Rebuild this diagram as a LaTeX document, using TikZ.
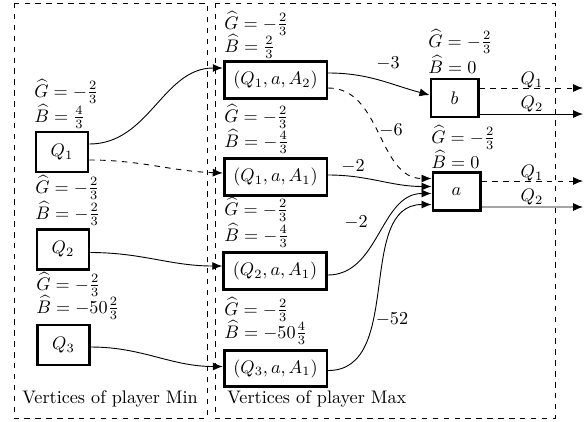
\documentclass[tikz,border=0pt]{standalone}
\usetikzlibrary{arrows.meta,calc}
\begin{document}
\begin{tikzpicture}[x=0.55pt,y=-0.55pt,
  vbox/.style={draw,line width=1.5pt,inner sep=0pt},
  minbox/.style={vbox,minimum width=28.5pt,minimum height=22pt},
  maxbox/.style={vbox,minimum width=56.5pt,minimum height=20pt},
  choicebox/.style={vbox,minimum width=26pt,minimum height=21pt},
  val/.style={anchor=base west,inner sep=0pt},
  edge/.style={line width=0.5pt,-{Latex[length=5.5pt,width=4.4pt]}},
  elabel/.style={inner sep=0pt},
  region/.style={dashed,line width=0.5pt}]

\useasboundingbox (0,0) rectangle (584,421);

% the two players' regions
\draw[region] (14,3) rectangle (207,418);
\draw[region] (215,3) rectangle (555,418);
\node[anchor=base west,inner sep=0pt] (minlab) at (22,403) {Vertices of player Min};
\node[anchor=base west,inner sep=0pt] (maxlab) at (227,403) {Vertices of player Max};

% vertices of Min
\node[minbox] (q1) at (62,152) {$Q_1$};
\node[minbox] (q2) at (63,249.5) {$Q_2$};
\node[minbox] (q3) at (63.5,345) {$Q_3$};

% vertices of Max
\node[maxbox] (m1) at (275.5,80) {$(Q_1,a,A_2)$};
\node[maxbox] (m2) at (275.5,177) {$(Q_1,a,A_1)$};
\node[maxbox] (m3) at (275,271) {$(Q_2,a,A_1)$};
\node[maxbox] (m4) at (275.5,368.5) {$(Q_3,a,A_1)$};

% letters
\node[choicebox] (b) at (454.5,98) {$b$};
\node[choicebox] (a) at (456.5,191.5) {$a$};

% values
\node[val] (gq1) at (34,97) {$\widehat{G}=-\frac{2}{3}$};
\node[val] (bq1) at (34,122) {$\widehat{B}=\frac{4}{3}$};
\node[val] (gq2) at (35,193) {$\widehat{G}=-\frac{2}{3}$};
\node[val] (bq2) at (35,219) {$\widehat{B}=-\frac{2}{3}$};
\node[val] (gq3) at (36,290) {$\widehat{G}=-\frac{2}{3}$};
\node[val] (bq3) at (36,313) {$\widehat{B}=-50\frac{2}{3}$};

\node[val] (gm1) at (224,29) {$\widehat{G}=-\frac{2}{3}$};
\node[val] (bm1) at (224,52) {$\widehat{B}=\frac{2}{3}$};
\node[val] (gm2) at (224,122) {$\widehat{G}=-\frac{2}{3}$};
\node[val] (bm2) at (224,147) {$\widehat{B}=-\frac{4}{3}$};
\node[val] (gm3) at (224,215) {$\widehat{G}=-\frac{2}{3}$};
\node[val] (bm3) at (224,241) {$\widehat{B}=-\frac{4}{3}$};
\node[val] (gm4) at (224,315) {$\widehat{G}=-\frac{2}{3}$};
\node[val] (bm4) at (224,338) {$\widehat{B}=-50\frac{4}{3}$};

\node[val] (gb) at (428,47) {$\widehat{G}=-\frac{2}{3}$};
\node[val] (bb) at (428,73) {$\widehat{B}=0$};
\node[val] (ga) at (431,143) {$\widehat{G}=-\frac{2}{3}$};
\node[val] (ba) at (431,168) {$\widehat{B}=0$};

% moves of Min
\draw[edge] ($(q1.east)+(0,-8)$) to[out=0,in=180] ($(m1.west)+(0,-12)$);
\draw[edge,dashed] ($(q1.east)+(0,8)$) to[out=0,in=178] ($(m2.west)+(0,-4)$);
\draw[edge] ($(q2.east)+(0,3)$) to[out=0,in=180] ($(m3.west)+(0,-5)$);
\draw[edge] ($(q3.east)+(0,2)$) to[out=0,in=180] ($(m4.west)+(0,-2)$);

% moves of Max
\draw[edge] ($(m1.east)+(0,-7)$) to[out=0,in=165] ($(b.west)+(0,-3)$);
\draw[edge,dashed] ($(m1.east)+(0,8)$) to[out=0,in=180] ($(a.west)+(0,-13)$);
\draw[edge] ($(m2.east)+(0,-2)$) to[out=0,in=180] ($(a.west)+(0,-5)$);
\draw[edge] ($(m3.east)+(0,4)$) to[out=0,in=180] ($(a.west)+(0,2)$);
\draw[edge] ($(m4.east)+(0,2)$) to[out=0,in=180] ($(a.west)+(0,13)$);

\node[elabel] (w1) at (388,63) {$-3$};
\node[elabel] (w2) at (391,130) {$-6$};
\node[elabel] (w3) at (353,166) {$-2$};
\node[elabel] (w4) at (356,222) {$-2$};
\node[elabel] (w5) at (392,319) {$-52$};

% outgoing transitions
\coordinate (bq1end) at (583,88);
\coordinate (bq2end) at (583,114);
\coordinate (aq1end) at (583,181);
\coordinate (aq2end) at (583,207);
\draw[edge,dashed] ($(b.east)+(0,-10)$) -- (bq1end);
\draw[edge] ($(b.east)+(0,16)$) -- (bq2end);
\draw[edge,dashed] ($(a.east)+(0,-10.5)$) -- (aq1end);
\draw[edge] ($(a.east)+(0,15.5)$) -- (aq2end);
\node[elabel] (lb1) at (532,80) {$Q_1$};
\node[elabel] (lb2) at (532,104) {$Q_2$};
\node[elabel] (la1) at (532,173) {$Q_1$};
\node[elabel] (la2) at (532,197) {$Q_2$};
\end{tikzpicture}
\end{document}
